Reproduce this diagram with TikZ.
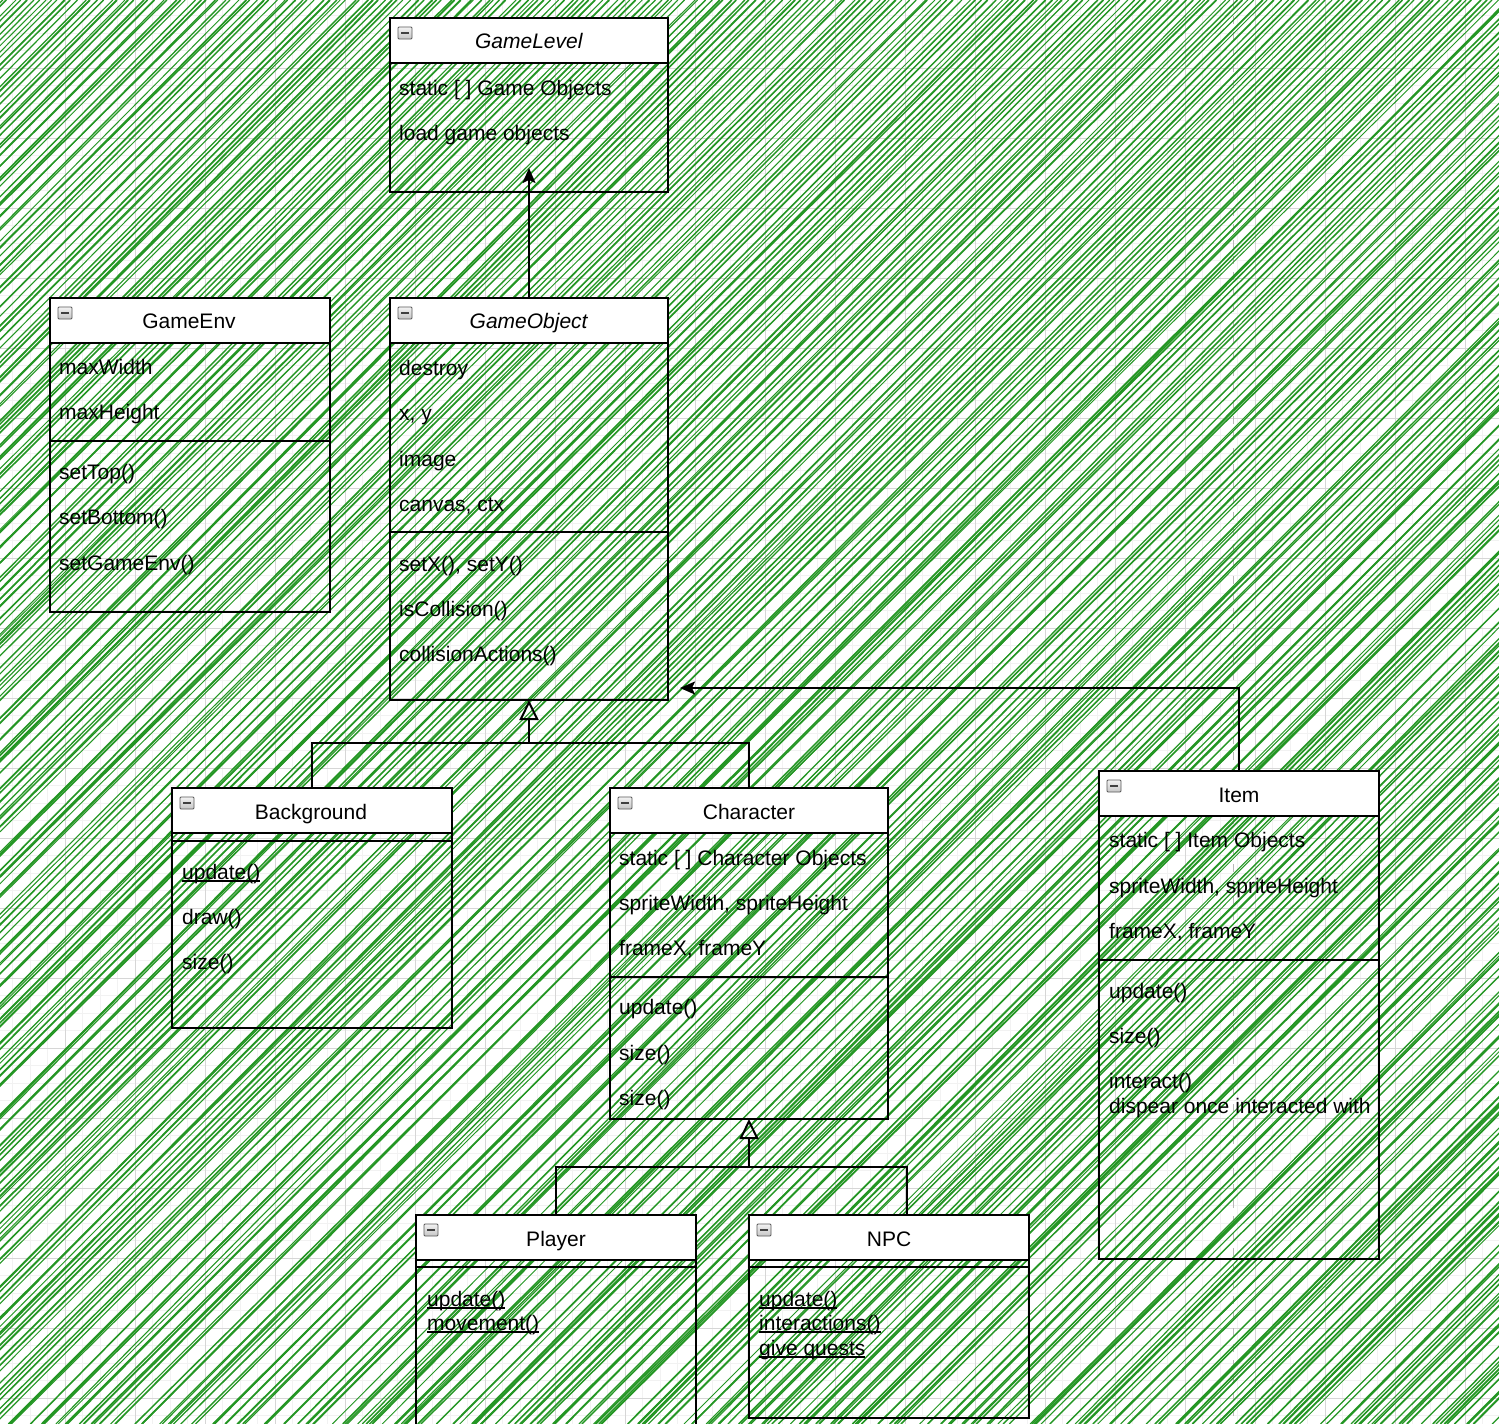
\documentclass[tikz,border=0pt]{standalone}
\usepackage{fontspec}
\setmainfont{Liberation Sans}
\usetikzlibrary{arrows.meta}
\newcommand\myfs{\fontsize{21}{25}\selectfont}
\newcommand\myul[1]{\leavevmode\setbox0\hbox{#1}\rlap{\rule[-2.6pt]{\wd0}{1.3pt}}\box0}
\definecolor{hatchgreen}{RGB}{36,150,36}
\definecolor{gridminor}{RGB}{242,242,242}
\definecolor{gridmajor}{RGB}{214,214,214}
\tikzset{
  boxnode/.style={draw=black, line width=2.1pt, rectangle, inner sep=0pt, outer sep=0pt},
  hdrnode/.style={boxnode, fill=white},
  minusicon/.style={draw=gray!70!black, line width=0.8pt, top color=gray!10, bottom color=gray!45,
     rectangle, minimum width=14pt, minimum height=12pt, inner sep=0pt, rounded corners=1pt},
  boxline/.style={draw=black, line width=2.1pt},
  lbl/.style={anchor=base west, inner sep=0pt, font=\myfs, text=black},
  ttl/.style={anchor=base, inner sep=0pt, font=\myfs, text=black},
  conn/.style={draw=black, line width=2pt},
  assoc/.style={conn, -{Stealth[length=15pt, width=13pt, inset=3pt]}},
  inherit/.style={conn, -{Triangle[open, length=20pt, width=19pt, line width=2pt]}},
  minorgrid/.style={draw=gridminor, line width=0.8pt},
  majorgrid/.style={draw=gridmajor, line width=0.9pt},
}
% name, left, top, right, bottom, header bottom
\newcommand\umlbox[6]{%
  \node[boxnode, minimum width={#4pt-#2pt}, minimum height={#5pt-#3pt}] (#1) at ({(#2+#4)/2},{(#3+#5)/2}) {};
  \node[hdrnode, minimum width={#4pt-#2pt}, minimum height={#6pt-#3pt}] (#1h) at ({(#2+#4)/2},{(#3+#6)/2}) {};
  \node[minusicon] (#1m) at ({#2+15},{#3+15}) {\color{black!75}\rule[-0.8pt]{8pt}{1.6pt}};
}
\begin{document}
\begin{tikzpicture}[x=1pt,y=-1pt]
\useasboundingbox (0,0) rectangle (1499,1424);
\fill[white] (0,0) rectangle (1499,1424);
% grid
\foreach \k in {-4,...,82} {\draw[minorgrid] ({65+17.5*\k},0) -- ({65+17.5*\k},1424);}
\foreach \k in {-4,...,78} {\draw[minorgrid] (0,{68+17.5*\k}) -- (1499,{68+17.5*\k});}
\foreach \k in {-1,...,20} {\draw[majorgrid] ({65+70*\k},0) -- ({65+70*\k},1424);}
\foreach \k in {-1,...,20} {\draw[majorgrid] (0,{68+70*\k}) -- (1499,{68+70*\k});}
\draw[gray!55, line width=1pt, dash pattern=on 8pt off 8pt] (1233,0) -- (1233,1424);
% hatch
\pgfmathsetseed{42}
\begin{scope}
\clip (0,0) rectangle (1499,1424);
\foreach \i in {0,...,480} {
  \pgfmathsetmacro\ca{\i*6.4 - 20 + 5*rnd}
  \pgfmathsetmacro\cb{\ca - 1424*(1.0+0.012*rand)}
  \pgfmathsetmacro\lw{0.9+1.0*rnd}
  \draw[hatchgreen, line width=\lw pt] (\ca,0) -- (\cb,1424);
}
\end{scope}
\begin{scope}
\clip (0,0) rectangle (1499,1424);
% classes
\umlbox{gl}{390}{18}{668}{192}{63}
\umlbox{ge}{50}{298}{330}{612}{343}
\umlbox{go}{390}{298}{668}{700}{343}
\umlbox{bg}{172}{788}{452}{1028}{833}
\umlbox{ch}{610}{788}{888}{1119}{833}
\umlbox{it}{1099}{771}{1379}{1259}{816}
\umlbox{pl}{416}{1215}{696}{1450}{1260}
\umlbox{np}{749}{1215}{1029}{1418}{1260}
% dividers
\draw[boxline] (50,441) -- (330,441);
\draw[boxline] (390,532) -- (668,532);
\draw[boxline] (172,841) -- (452,841);
\draw[boxline] (610,977) -- (888,977);
\draw[boxline] (1099,960) -- (1379,960);
\draw[boxline] (416,1267) -- (696,1267);
\draw[boxline] (749,1267) -- (1029,1267);
\end{scope}
% GameLevel
\node[ttl] (glt) at (529,48) {\textit{GameLevel}};
\node[lbl] (gla1) at (399,95) {static [ ] Game Objects};
\node[lbl] (gla2) at (399,140) {load game objects};
% GameEnv
\node[ttl] (get) at (189,328) {GameEnv};
\node[lbl] (gea1) at (59,374) {maxWidth};
\node[lbl] (gea2) at (59,419) {maxHeight};
\node[lbl] (gem1) at (59,479) {setTop()};
\node[lbl] (gem2) at (59,524) {setBottom()};
\node[lbl] (gem3) at (59,570) {setGameEnv()};
% GameObject
\node[ttl] (got) at (529,328) {\textit{GameObject}};
\node[lbl] (goa1) at (399,375) {destroy};
\node[lbl] (goa2) at (399,420) {x, y};
\node[lbl] (goa3) at (399,466) {image};
\node[lbl] (goa4) at (399,511) {canvas, ctx};
\node[lbl] (gom1) at (399,571) {setX(), setY()};
\node[lbl] (gom2) at (399,616) {isCollision()};
\node[lbl] (gom3) at (399,661) {collisionActions()};
% Background
\node[ttl] (bgt) at (311,819) {Background};
\node[lbl] (bgm1) at (182,879) {\myul{update()}};
\node[lbl] (bgm2) at (182,924) {draw()};
\node[lbl] (bgm3) at (182,969) {size()};
% Character
\node[ttl] (cht) at (749,819) {Character};
\node[lbl] (cha1) at (619,865) {static [ ] Character Objects};
\node[lbl] (cha2) at (619,910) {spriteWidth, spriteHeight};
\node[lbl] (cha3) at (619,955) {frameX, frameY};
\node[lbl] (chm1) at (619,1014) {update()};
\node[lbl] (chm2) at (619,1060) {size()};
\node[lbl] (chm3) at (619,1105) {size()};
% Item
\node[ttl] (itt) at (1239,802) {Item};
\node[lbl] (ita1) at (1109,847) {static [ ] Item Objects};
\node[lbl] (ita2) at (1109,893) {spriteWidth, spriteHeight};
\node[lbl] (ita3) at (1109,938) {frameX, frameY};
\node[lbl] (itm1) at (1109,998) {update()};
\node[lbl] (itm2) at (1109,1043) {size()};
\node[lbl] (itm3) at (1109,1088) {interact()};
\node[lbl] (itm4) at (1109,1113) {dispear once interacted with};
% Player
\node[ttl] (plt) at (556,1246) {Player};
\node[lbl] (plm1) at (427,1306) {\myul{update()}};
\node[lbl] (plm2) at (427,1330) {\myul{movement()}};
% NPC
\node[ttl] (npt) at (889,1246) {NPC};
\node[lbl] (npm1) at (759,1306) {\myul{update()}};
\node[lbl] (npm2) at (759,1330) {\myul{interactions()}};
\node[lbl] (npm3) at (759,1355) {\myul{give quests}};
% connectors
\coordinate (glin) at (529,168);
\draw[assoc] (go.north) -- (glin);
\coordinate (goR) at (680,688);
\draw[assoc] (it.north) |- (goR);
\coordinate (j1) at (529,743);
\draw[conn] (bg.north) |- (j1);
\draw[conn] (ch.north) |- (j1);
\draw[inherit] (j1) -- (go.south);
\coordinate (j2) at (749,1167);
\coordinate (npin) at (907,1215);
\draw[conn] (pl.north) |- (j2);
\draw[conn] (npin) |- (j2);
\draw[inherit] (j2) -- (ch.south);
\end{tikzpicture}
\end{document}
